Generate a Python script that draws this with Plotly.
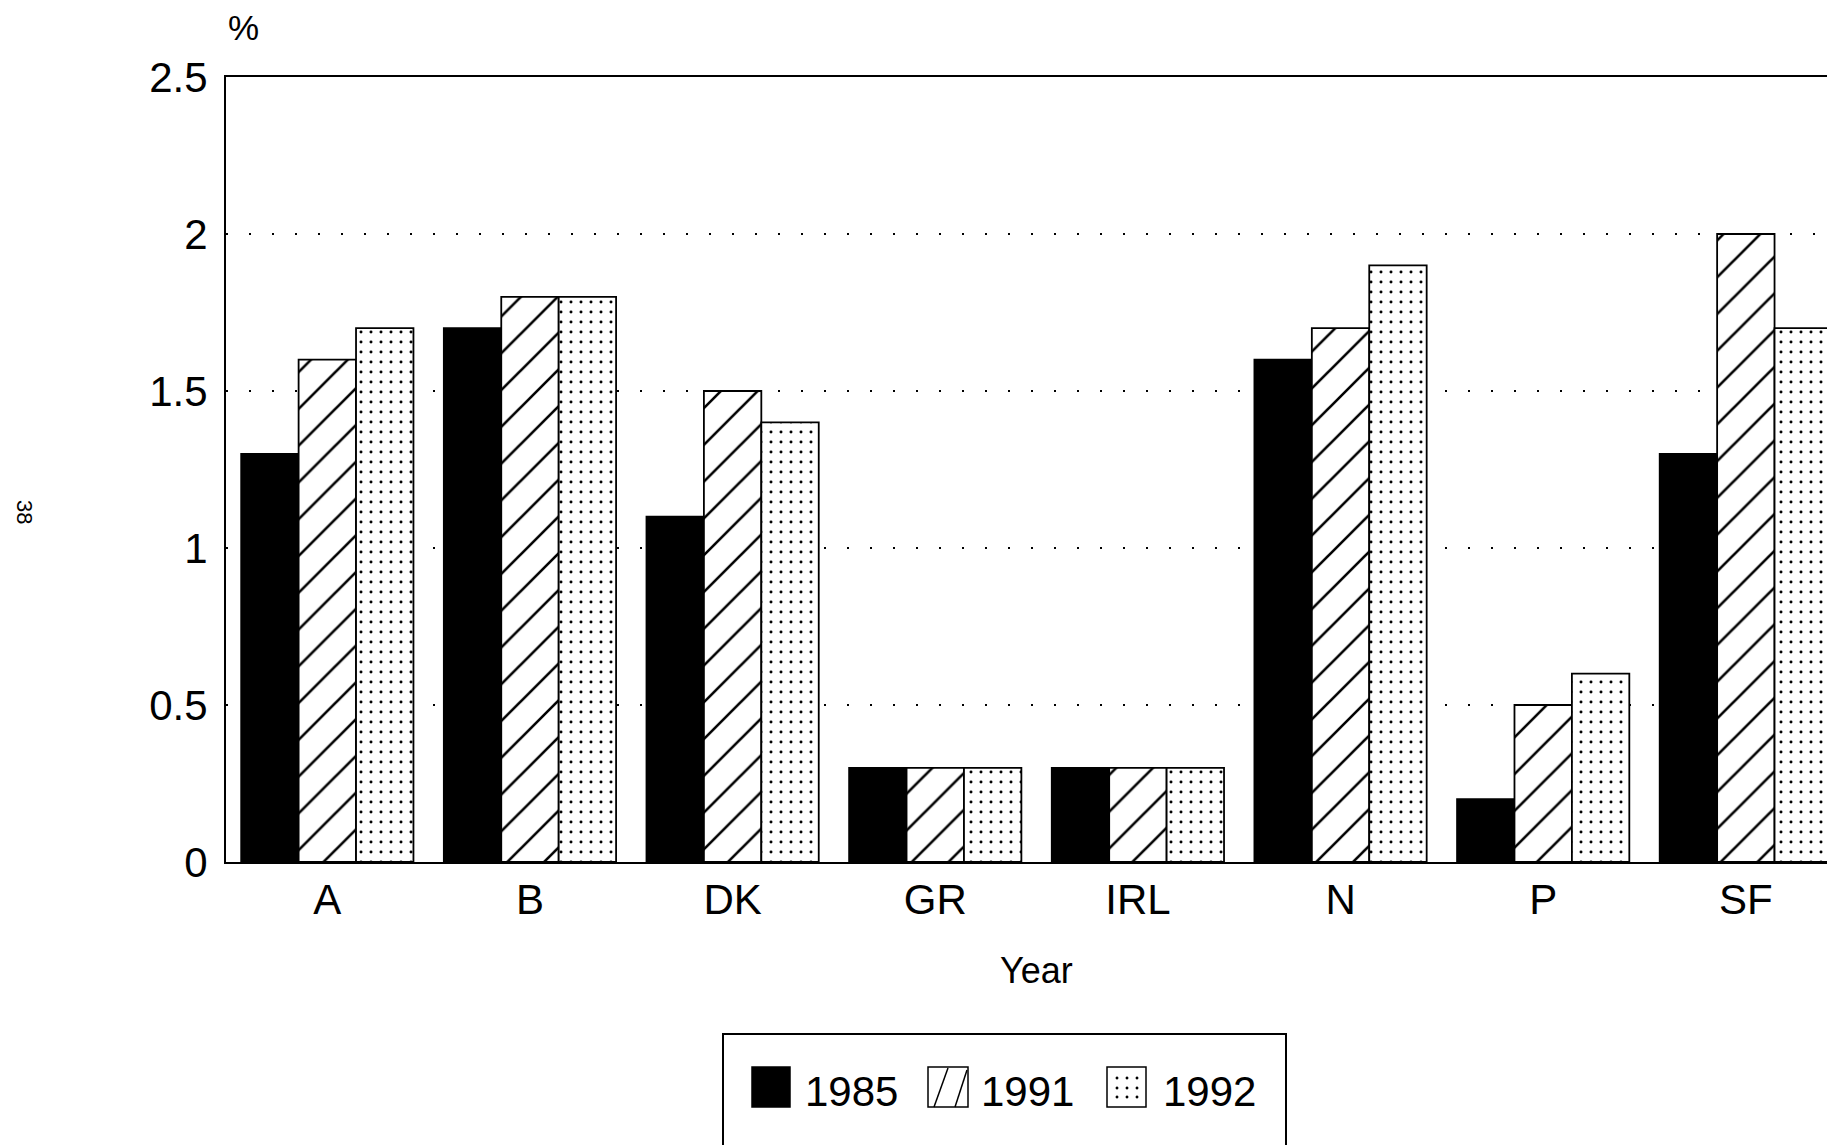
import plotly.graph_objects as go

# ---- data ----
categories = ["A", "B", "DK", "GR", "IRL", "N", "P", "SF"]
years = ["1985", "1991", "1992"]
values_1985 = [1.3, 1.7, 1.1, 0.3, 0.3, 1.6, 0.2, 1.3]
values_1991 = [1.6, 1.8, 1.5, 0.3, 0.3, 1.7, 0.5, 2.0]
values_1992 = [1.7, 1.8, 1.4, 0.3, 0.3, 1.9, 0.6, 1.7]
y_ticks = [0, 0.5, 1, 1.5, 2, 2.5]
y_tick_labels = ["0", "0.5", "1", "1.5", "2", "2.5"]

OFF = 8  # page body margin offset
W, H = 1835 - OFF, 1145 - OFF
ML, MT = 226 - OFF, 77 - OFF
MR = 0
MB = H - (862 - OFF)
PW, PH = W - ML - MR, H - MT - MB
FONT = "Liberation Sans, Arial, Helvetica, sans-serif"


def X(px):
    # px given in reference screen pixels
    return (px - OFF - ML) / PW


def Y(py):
    return (H - MB - (py - OFF)) / PH


line = dict(color="black", width=1.8)

fig = go.Figure()
fig.add_trace(go.Bar(
    x=categories, y=values_1985, name=years[0],
    marker=dict(color="black", line=line), showlegend=False,
))
fig.add_trace(go.Bar(
    x=categories, y=values_1991, name=years[1],
    marker=dict(color="white", line=line,
                pattern=dict(shape="/", fgcolor="black", bgcolor="white",
                             fgopacity=1, size=26, solidity=0.1)),
    showlegend=False,
))
fig.add_trace(go.Bar(
    x=categories, y=values_1992, name=years[2],
    marker=dict(color="white", line=line,
                pattern=dict(shape=".", fgcolor="black", bgcolor="white",
                             fgopacity=1, size=10, solidity=0.07)),
    showlegend=False,
))

shapes = []
# legend box (cut at the bottom like the reference)
shapes.append(dict(type="rect", xref="paper", yref="paper",
                   x0=X(723), x1=X(1286), y0=Y(1034), y1=Y(1170),
                   line=dict(color="black", width=2), fillcolor="white", layer="above"))
# 1985 swatch
shapes.append(dict(type="rect", xref="paper", yref="paper",
                   x0=X(752), x1=X(790), y0=Y(1067), y1=Y(1107),
                   line=dict(color="black", width=1.5), fillcolor="black", layer="above"))
# 1991 swatch
shapes.append(dict(type="rect", xref="paper", yref="paper",
                   x0=X(928), x1=X(968), y0=Y(1067), y1=Y(1107),
                   line=dict(color="black", width=1.5), fillcolor="white", layer="above"))
for (ax, ay, bx, by) in [(934, 1107, 948, 1068), (955, 1107, 967, 1070)]:
    shapes.append(dict(type="line", xref="paper", yref="paper",
                       x0=X(ax), y0=Y(ay), x1=X(bx), y1=Y(by),
                       line=dict(color="black", width=1.5), layer="above"))
# 1992 swatch
shapes.append(dict(type="rect", xref="paper", yref="paper",
                   x0=X(1107), x1=X(1146), y0=Y(1067), y1=Y(1107),
                   line=dict(color="black", width=1.5), fillcolor="white", layer="above"))
for dx in (1117, 1127, 1137):
    for dy in (1078, 1088, 1097):
        shapes.append(dict(type="circle", xref="paper", yref="paper",
                           x0=X(dx - 1.2), x1=X(dx + 1.2), y0=Y(dy - 1.2), y1=Y(dy + 1.2),
                           line=dict(color="black", width=0.5), fillcolor="black",
                           layer="above"))

annotations = [
    dict(text="%", x=X(243), y=Y(27), xref="paper", yref="paper",
         showarrow=False, xanchor="center", yanchor="middle",
         font=dict(size=35, color="black", family=FONT)),
    dict(text="Year", x=X(1036), y=Y(970), xref="paper", yref="paper",
         showarrow=False, xanchor="center", yanchor="middle",
         font=dict(size=36, color="black", family=FONT)),
    dict(text="38", x=X(25), y=Y(512), xref="paper", yref="paper",
         showarrow=False, xanchor="center", yanchor="middle", textangle=90,
         font=dict(size=22, color="black", family=FONT)),
]
for xs, label in [(803, years[0]), (979, years[1]), (1161, years[2])]:
    annotations.append(dict(text=label, x=X(xs), y=Y(1091), xref="paper", yref="paper",
                            showarrow=False, xanchor="left", yanchor="middle",
                            font=dict(size=42, color="black", family=FONT)))

fig.update_layout(
    width=W, height=H,
    margin=dict(l=ML, r=MR, t=MT, b=MB, autoexpand=False),
    paper_bgcolor="white", plot_bgcolor="white",
    barmode="group", bargap=0.15, bargroupgap=0,
    font=dict(family=FONT, color="black", size=42),
    shapes=shapes, annotations=annotations,
)
fig.update_xaxes(
    range=[-0.5, 7.44], showline=True, linecolor="black", linewidth=2,
    mirror=True, showgrid=False, ticks="", ticklabelstandoff=0,
    tickfont=dict(size=42, family=FONT, color="black"),
)
fig.update_yaxes(
    range=[0, 2.5], tickvals=y_ticks, ticktext=y_tick_labels,
    showline=True, linecolor="black", linewidth=2, mirror=False,
    showgrid=True, gridcolor="black", gridwidth=2, griddash="2px,21px",
    zeroline=False, ticks="", ticklabelstandoff=8,
    tickfont=dict(size=42, family=FONT, color="black"),
)

fig.write_html("out.html")
